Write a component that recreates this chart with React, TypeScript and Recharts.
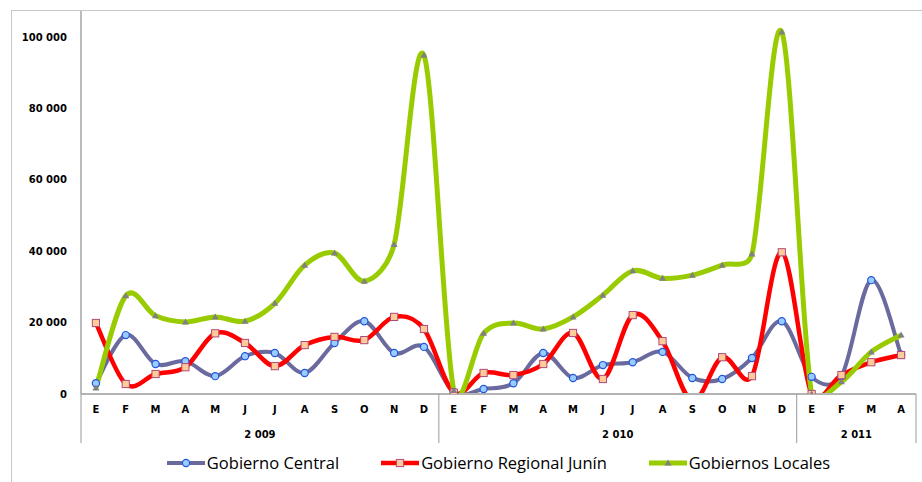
import React from "react";
import { LineChart, Line, XAxis, YAxis, Legend } from "recharts";

// month initials, 2009-01 .. 2011-04
const months = ["E", "F", "M", "A", "M", "J", "J", "A", "S", "O", "N", "D",
  "E", "F", "M", "A", "M", "J", "J", "A", "S", "O", "N", "D",
  "E", "F", "M", "A"];
const years = [2009, 2010, 2011];
const monthsPerYear = [12, 12, 4];

const gobiernoCentral = [3000, 16500, 8400, 9200, 5000, 10600, 11500, 5900, 14300, 20400, 11500, 13200,
  500, 1400, 3000, 11500, 4500, 8100, 8900, 11800, 4500, 4200, 10100, 20400,
  4800, 5000, 31900, 11000];
const gobiernoRegional = [19900, 2800, 5600, 7500, 17000, 14300, 7800, 13700, 16000, 15100, 21600, 18200,
  400, 5900, 5300, 8400, 17100, 4200, 22100, 14800, -2000, 10300, 5000, 39700,
  0, 5300, 8900, 10900];
const gobiernosLocales = [1700, 27500, 21900, 20200, 21600, 20400, 25400, 36100, 39500, 31600, 41900, 94900,
  1000, 17000, 19900, 18200, 21600, 27700, 34500, 32400, 33300, 36100, 39200, 101400,
  0, 3400, 11800, 16500];

const yTicks = [0, 20000, 40000, 60000, 80000, 100000];

const yearOfMonth: number[] = [];
years.forEach((y, i) => {
  for (let k = 0; k < monthsPerYear[i]; k++) yearOfMonth.push(y);
});

const data = months.map((m, i) => ({
  month: m,
  year: yearOfMonth[i],
  central: gobiernoCentral[i],
  regional: gobiernoRegional[i],
  locales: gobiernosLocales[i],
}));

const W = 922;
const H = 482;
const MARGIN = { top: 11, right: 6, left: 11, bottom: 36 };
const Y_W = 70;
const MONTH_H = 26;
const BAND = (W - MARGIN.left - MARGIN.right - Y_W) / months.length;
const X_PAD = { left: BAND / 2, right: BAND / 2 };
const TICK_FONT = "DejaVu Sans";

const fmt = (v: number) => String(v).replace(/\B(?=(\d{3})+(?!\d))/g, " ");

// Excel-like smoothed line: cardinal spline, handles capped at half the segment
function excelSmooth(context: any) {
  let pts: number[][] = [];
  const handle = (a: number[], b: number[], seg: number) => {
    let dx = (b[0] - a[0]) / 6;
    let dy = (b[1] - a[1]) / 6;
    const len = Math.hypot(dx, dy);
    if (len > seg / 2 && len > 0) {
      dx *= seg / 2 / len;
      dy *= seg / 2 / len;
    }
    return [dx, dy];
  };
  return {
    areaStart() {},
    areaEnd() {},
    lineStart() { pts = []; },
    point(x: number, y: number) { pts.push([+x, +y]); },
    lineEnd() {
      if (!pts.length) return;
      context.moveTo(pts[0][0], pts[0][1]);
      for (let i = 0; i < pts.length - 1; i++) {
        const p0 = pts[i - 1] || pts[i];
        const p1 = pts[i];
        const p2 = pts[i + 1];
        const p3 = pts[i + 2] || p2;
        const seg = Math.hypot(p2[0] - p1[0], p2[1] - p1[1]);
        const h1 = handle(p0, p2, seg);
        const h2 = handle(p1, p3, seg);
        context.bezierCurveTo(p1[0] + h1[0], p1[1] + h1[1], p2[0] - h2[0], p2[1] - h2[1], p2[0], p2[1]);
      }
    },
  };
}

const series = [
  { key: "central", name: "Gobierno Central", color: "#6A6A9E", width: 4, marker: "circle" },
  { key: "regional", name: "Gobierno Regional Junín", color: "#FF0000", width: 4.5, marker: "square" },
  { key: "locales", name: "Gobiernos Locales", color: "#99CC00", width: 5, marker: "triangle" },
];

function Marker({ type, cx, cy }: { type: string; cx: number; cy: number }) {
  if (type === "circle") {
    return <circle cx={cx} cy={cy} r={3.6} fill="#99CCFF" stroke="#2255DD" strokeWidth={1.2} />;
  }
  if (type === "square") {
    return <rect x={cx - 3.6} y={cy - 3.6} width={7.2} height={7.2} fill="#FFCC99" stroke="#B04A7A" strokeWidth={1} />;
  }
  return <path d={`M${cx},${cy - 3.5}L${cx + 3.5},${cy + 2.5}L${cx - 3.5},${cy + 2.5}Z`} fill="#808080" />;
}

function makeDot(type: string) {
  return (p: any) => {
    if (p.cx == null || p.cy == null) return <g key={`d-${p.index}`} />;
    return <g key={`d-${p.index}`}><Marker type={type} cx={p.cx} cy={p.cy} /></g>;
  };
}

function YearTick(props: any) {
  const { x, y, payload } = props;
  const i = payload.index;
  let start = 0;
  let g = 0;
  while (g < years.length && start + monthsPerYear[g] <= i) {
    start += monthsPerYear[g];
    g++;
  }
  if (g >= years.length || i !== start) return <g />;
  const left = x - BAND / 2;
  const width = monthsPerYear[g] * BAND;
  const last = g === years.length - 1;
  return (
    <g>
      <line x1={left} x2={left} y1={y - MONTH_H} y2={y + 23} stroke="#9A9A9A" strokeWidth={1} />
      {last && <line x1={left + width} x2={left + width} y1={y - MONTH_H} y2={y + 23} stroke="#9A9A9A" strokeWidth={1} />}
      <text x={left + width / 2} y={y + 18} textAnchor="middle" fontFamily={TICK_FONT} fontSize={10}
        fontWeight="bold" fill="#000">{fmt(years[g])}</text>
    </g>
  );
}

function LegendContent() {
  return (
    <div style={{ display: "flex", justifyContent: "center", alignItems: "center", gap: 42,
      fontFamily: "Open Sans", fontSize: 16.5, color: "#000" }}>
      {series.map((s) => (
        <div key={s.key} style={{ display: "flex", alignItems: "center" }}>
          <svg width={38} height={12} style={{ marginRight: 2 }}>
            <line x1={0} x2={38} y1={6} y2={6} stroke={s.color} strokeWidth={s.width} />
            <Marker type={s.marker} cx={19} cy={6} />
          </svg>
          <span>{s.name}</span>
        </div>
      ))}
    </div>
  );
}

export default function App() {
  return (
    <div style={{ position: "absolute", left: 0, top: 0, width: W, height: H, overflow: "hidden", background: "#fff" }}>
      <div style={{ position: "absolute", left: 11, top: 10, width: 1000, height: 1000, border: "1px solid #C8C8C8" }} />
      <div style={{ position: "absolute", left: 0, top: 0 }}>
        <LineChart width={W} height={H} data={data} margin={MARGIN}>
          <XAxis dataKey="month" padding={X_PAD} interval={0} tickLine={false} tickSize={0} tickMargin={12}
            height={MONTH_H} axisLine={{ stroke: "#B4B4B4", strokeWidth: 2 }}
            tick={{ fontSize: 10, fontWeight: "bold", fill: "#000", fontFamily: TICK_FONT }} />
          <XAxis xAxisId="year" dataKey="year" padding={X_PAD} interval={0} axisLine={false} tickLine={false}
            tickSize={0} tickMargin={0} height={MONTH_H} tick={(p: any) => <YearTick {...p} />} />
          <YAxis width={Y_W} domain={[0, 107300]} ticks={yTicks} allowDataOverflow tickLine={false} tickSize={0}
            tickMargin={14} axisLine={{ stroke: "#A6A6A6", strokeWidth: 1.5 }} tickFormatter={fmt}
            tick={{ fontSize: 10, fontWeight: "bold", fill: "#000", fontFamily: TICK_FONT }} />
          <Legend layout="horizontal" verticalAlign="middle" align="center" content={<LegendContent />}
            wrapperStyle={{ top: 451, left: 81, width: 835 }} />
          {series.map((s) => (
            <Line key={s.key} dataKey={s.key} name={s.name} type={excelSmooth as any} stroke={s.color}
              strokeWidth={s.width} dot={makeDot(s.marker)} activeDot={false} isAnimationActive={false} />
          ))}
        </LineChart>
      </div>
    </div>
  );
}
